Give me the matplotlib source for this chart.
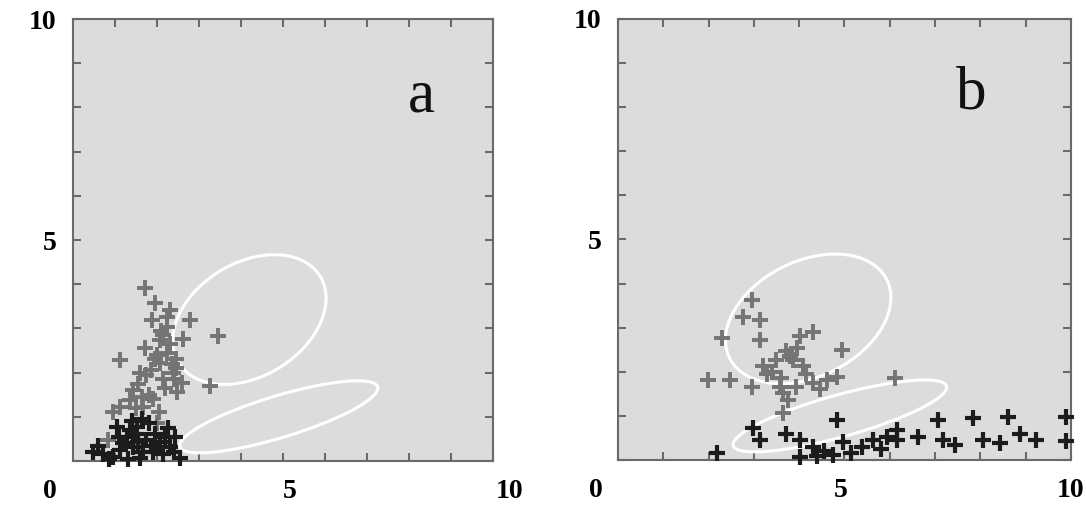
import matplotlib
matplotlib.use("Agg")
import matplotlib.pyplot as plt
from matplotlib.patches import Ellipse
import matplotlib.transforms as mtransforms

# Panel a: grey cluster and dark cluster.
a_grey_x = [1.71, 1.95, 2.31, 1.87, 2.79, 2.23, 3.46, 2.63, 2.07, 1.71, 1.12, 2.23, 2.07, 2.39,
            1.60, 2.59, 2.47, 3.26, 1.44, 1.36, 1.12, 0.96, 1.67, 1.99, 0.84, 2.10, 2.30, 2.00,
            2.35, 1.85, 2.15, 1.55, 1.80, 2.45, 2.20, 1.90, 2.05, 2.40, 1.75, 1.50, 2.25, 2.15,
            1.95, 2.45, 1.65]
a_grey_y = [3.91, 3.57, 3.42, 3.19, 3.19, 3.04, 2.83, 2.75, 2.74, 2.55, 2.28, 2.44, 2.21, 1.98,
            1.98, 1.76, 1.57, 1.70, 1.61, 1.38, 1.23, 1.12, 1.23, 0.85, 0.48, 2.95, 2.65, 2.40,
            2.20, 2.05, 1.85, 1.75, 1.50, 2.30, 1.65, 1.40, 1.10, 1.85, 1.95, 1.20, 3.25, 2.85,
            2.30, 2.10, 1.45]
a_dark_x = [1.04, 1.52, 2.27, 2.43, 1.28, 1.75, 2.07, 0.48, 0.72, 1.12, 1.44, 1.67, 1.91, 2.31,
            2.55, 1.60, 0.96, 1.36, 1.20, 1.85, 2.15, 1.50, 0.85, 2.40, 1.30, 1.95, 1.40, 1.65,
            2.00, 1.10, 0.60, 1.80, 2.20, 1.55]
a_dark_y = [0.78, 0.78, 0.74, 0.55, 0.55, 0.48, 0.44, 0.21, 0.17, 0.25, 0.32, 0.21, 0.21, 0.32,
            0.06, 0.07, 0.10, 0.70, 0.40, 0.35, 0.15, 0.60, 0.05, 0.20, 0.05, 0.62, 0.90, 0.95,
            0.30, 0.55, 0.35, 0.85, 0.55, 0.42]

# Panel b: grey cluster and dark points along the bottom.
b_grey_x = [2.95, 2.77, 3.13, 2.29, 3.13, 4.31, 4.02, 4.94, 3.72, 3.50, 3.87, 3.21, 4.09, 1.99,
            2.47, 2.95, 3.58, 3.94, 4.31, 4.61, 4.83, 3.65, 6.11, 3.65, 3.40, 3.80, 4.15, 3.60,
            3.30, 4.45, 3.75, 3.95]
b_grey_y = [3.63, 3.25, 3.17, 2.76, 2.72, 2.91, 2.80, 2.49, 2.46, 2.27, 2.27, 2.12, 2.12, 1.81,
            1.81, 1.66, 1.66, 1.66, 1.74, 1.81, 1.89, 1.51, 1.85, 1.06, 2.00, 2.35, 1.95, 1.85,
            1.95, 1.60, 1.35, 2.55]
b_dark_x = [2.18, 2.99, 3.13, 3.72, 4.02, 4.31, 4.75, 4.83, 4.97, 5.38, 5.64, 5.93, 6.15, 6.15,
            6.63, 7.07, 7.18, 7.44, 7.84, 8.06, 8.43, 8.62, 8.87, 9.24, 9.90, 9.90, 4.02, 4.55,
            5.15, 5.80, 4.40]
b_dark_y = [0.15, 0.72, 0.45, 0.60, 0.45, 0.30, 0.11, 0.91, 0.41, 0.30, 0.45, 0.53, 0.68, 0.45,
            0.53, 0.91, 0.45, 0.34, 0.95, 0.45, 0.38, 0.98, 0.60, 0.45, 0.98, 0.43, 0.07, 0.20,
            0.15, 0.25, 0.10]

# Contour ellipses: centre x, centre y, width, height, angle.
ellipses = [(4.2, 3.2, 3.9, 2.6, 28), (4.9, 1.0, 4.9, 0.95, 16)]

panel_labels = ["a", "b"]
panel_label_pos = [(8.3, 8.25), (7.8, 8.3)]

# x tick label nudges in pixels, for 0, 5, 10
x_nudges = [[-23, 7, 17], [-22, -4, 0]]

bg_grey = "#DCDCDC"
grey_pts = "#747474"
dark_pts = "#1C1C1C"
frame = "#6A6A6A"

fig = plt.figure(figsize=(10.86, 5.07), dpi=100)
axes = [fig.add_axes([0.0672, 0.0907, 0.3867, 0.8718]),
        fig.add_axes([0.569, 0.0927, 0.4171, 0.870])]

data = [(a_grey_x, a_grey_y, a_dark_x, a_dark_y), (b_grey_x, b_grey_y, b_dark_x, b_dark_y)]
tick_font = dict(family="Liberation Serif", weight="bold", size=20)

for k, ax in enumerate(axes):
    gx, gy, dx, dy = data[k]
    ax.set_facecolor(bg_grey)
    for cx, cy, w, h, ang in ellipses:
        ax.add_patch(Ellipse((cx, cy), w, h, angle=ang, fill=False, ec="white", lw=2.2, zorder=2))
    ax.plot(gx, gy, "+", color=grey_pts, ms=11, mew=2.8, zorder=3, clip_on=False)
    ax.plot(dx, dy, "+", color=dark_pts, ms=11, mew=3.0, zorder=4, clip_on=False)
    ax.set_xlim(0, 10)
    ax.set_ylim(0, 10)
    ax.set_xticks(range(11))
    ax.set_yticks(range(11))
    ax.set_xticklabels(["0", "", "", "", "", "5", "", "", "", "", "10"], **tick_font)
    ax.set_yticklabels(["", "", "", "", "", "5", "", "", "", "", "10"], **tick_font)
    ax.tick_params(direction="in", length=6, width=1.5, color=frame, top=True, right=True)
    ax.tick_params(axis="x", pad=13)
    ax.tick_params(axis="y", pad=12)
    for spine in ax.spines.values():
        spine.set_color(frame)
        spine.set_linewidth(1.5)
    labels = ax.get_xticklabels()
    for lab, nudge in zip([labels[0], labels[5], labels[10]], x_nudges[k]):
        offset = mtransforms.ScaledTranslation(nudge / 100, 0, fig.dpi_scale_trans)
        lab.set_transform(lab.get_transform() + offset)
    ax.text(panel_label_pos[k][0], panel_label_pos[k][1], panel_labels[k],
            family="Liberation Serif", size=44, ha="center", va="center", color="#111111")

fig.savefig("out.png", dpi=100, facecolor="white")
